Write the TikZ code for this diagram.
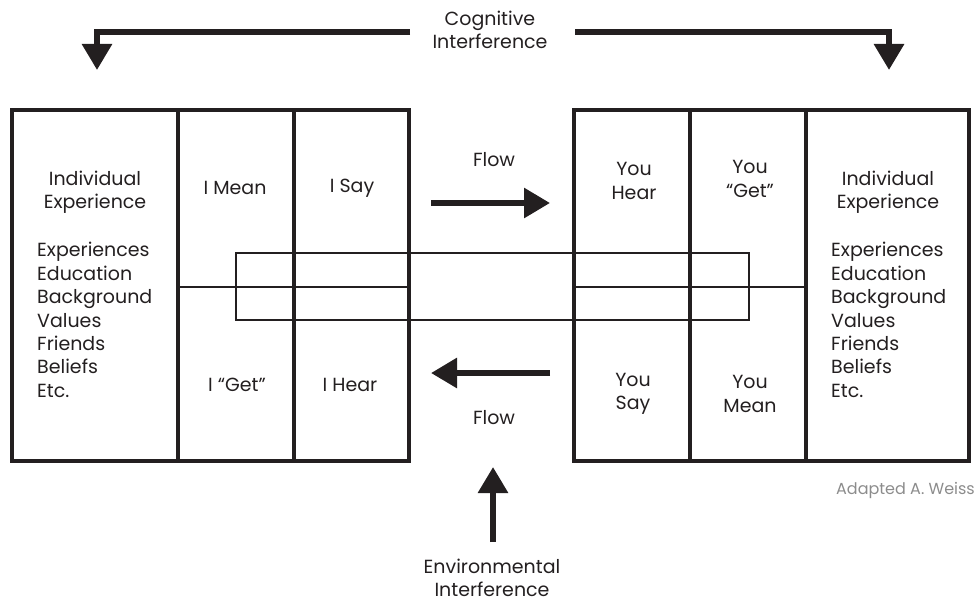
\documentclass[tikz,border=0pt]{standalone}
\usepackage{fontspec}
\setmainfont{Poppins}
\usetikzlibrary{arrows.meta}
\definecolor{ink}{HTML}{231F20}
\definecolor{note}{HTML}{8C8C8C}
\begin{document}
\begin{tikzpicture}[x=1pt,y=-1pt,
  thickbox/.style={draw=ink,line width=4.5pt,line join=miter},
  midline/.style={draw=ink,line width=1.2pt},
  bridgebox/.style={draw=ink,line width=2.5pt},
  lbl/.style={text=ink,font=\fontsize{19}{23.4}\selectfont,align=center,inner sep=0pt},
  listlbl/.style={lbl,align=left,anchor=west},
  bigarrow/.style={draw=ink,line width=6pt,line join=miter,-{Triangle[length=26pt,width=29pt]}},
]
\useasboundingbox (0,0) rectangle (977,602);

% boxes
\draw[thickbox] (12,110) rectangle (409,461);
\draw[thickbox] (178,110) -- (178,461);
\draw[thickbox] (294,110) -- (294,461);
\draw[thickbox] (574,110) rectangle (969,461);
\draw[thickbox] (690,110) -- (690,461);
\draw[thickbox] (806,110) -- (806,461);
% middle lines
\draw[midline] (178,287) -- (409,287);
\draw[midline] (574,287) -- (806,287);
\draw[bridgebox] (236,253) rectangle (749,320);

% labels
\node[lbl] (cog) at (490,30) {Cognitive\\Interference};
\node[lbl] (flowtop) at (494,160) {Flow};
\node[lbl] (flowbot) at (494,418) {Flow};
\node[lbl] (envi) at (492,578) {Environmental\\Interference};

\node[lbl] (indL) at (95,192) {Individual\\Experience};
\node[listlbl] (listL) at (37,320) {Experiences\\Education\\Background\\Values\\Friends\\Beliefs\\Etc.};
\node[lbl] (imean) at (235,188) {I Mean};
\node[lbl] (isay) at (352,188) {I Say};
\node[lbl] (iget) at (237,385) {I “Get”};
\node[lbl] (ihear) at (350,385) {I Hear};

\node[lbl] (uhear) at (634,181) {You\\Hear};
\node[lbl] (uget) at (750,179) {You\\“Get”};
\node[lbl] (indR) at (888,192) {Individual\\Experience};
\node[listlbl] (listR) at (831,320) {Experiences\\Education\\Background\\Values\\Friends\\Beliefs\\Etc.};
\node[lbl] (usay) at (633,394) {You\\Say};
\node[lbl] (umean) at (750,394) {You\\Mean};

\node[text=note,font=\fontsize{16}{19}\selectfont,anchor=east,inner sep=0pt] (credit) at (975,490) {Adapted A. Weiss};

% arrows
\coordinate (cogLs) at (410,32);
\coordinate (cogLt) at (97,70);
\coordinate (cogRs) at (575,32);
\coordinate (cogRt) at (889,70);
\draw[bigarrow] (cogLs) -| (cogLt);
\draw[bigarrow] (cogRs) -| (cogRt);

\coordinate (f1s) at (431,203);
\coordinate (f1t) at (550,203);
\coordinate (f2s) at (550,373);
\coordinate (f2t) at (431,373);
\draw[bigarrow] (f1s) -- (f1t);
\draw[bigarrow] (f2s) -- (f2t);

\coordinate (es) at (493,542);
\coordinate (et) at (493,467);
\draw[bigarrow] (es) -- (et);
\end{tikzpicture}
\end{document}
